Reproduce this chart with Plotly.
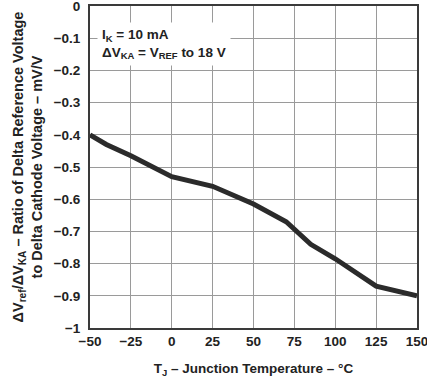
import plotly.graph_objects as go

temp_c = [-50, -40, -25, 0, 25, 50, 70, 85, 100, 125, 150]
ratio_mv_per_v = [-0.40, -0.43, -0.465, -0.53, -0.56, -0.615, -0.67, -0.74, -0.785, -0.87, -0.90]

x_ticks = [-50, -25, 0, 25, 50, 75, 100, 125, 150]
y_ticks = [0, -0.1, -0.2, -0.3, -0.4, -0.5, -0.6, -0.7, -0.8, -0.9, -1]

font_family = "Liberation Sans, Arial, sans-serif"
text_color = "#222222"

fig = go.Figure()
fig.add_trace(go.Scatter(
    x=temp_c, y=ratio_mv_per_v, mode="lines",
    line=dict(color="#2b2b2b", width=5),
    showlegend=False, hoverinfo="skip",
))

fig.update_layout(
    width=427, height=378,
    margin=dict(l=90, r=10, t=6, b=50),
    paper_bgcolor="white", plot_bgcolor="white",
    font=dict(family=font_family, size=13.5, color=text_color),
    xaxis=dict(
        range=[-50, 150], tickvals=x_ticks, automargin=False,
        ticklabeloverflow="allow",
        showgrid=True, gridcolor="#9a9a9a", gridwidth=1,
        showline=True, linecolor="#3a3a3a", linewidth=2, mirror=True,
        ticks="", zeroline=False,
        tickfont=dict(family=font_family, size=13.5, color=text_color, weight="bold"),
        title=dict(text="<b>T<sub>J</sub> – Junction Temperature – °C</b>",
                   font=dict(family=font_family, size=13.5, color=text_color), standoff=18),
    ),
    yaxis=dict(
        range=[-1, 0], tickvals=y_ticks, automargin=False,
        ticklabeloverflow="allow",
        showgrid=True, gridcolor="#9a9a9a", gridwidth=1,
        showline=True, linecolor="#3a3a3a", linewidth=2, mirror=True,
        ticks="", zeroline=False, ticklabelstandoff=5,
        tickfont=dict(family=font_family, size=13.5, color=text_color, weight="bold"),
        title=dict(text="<b>ΔV<sub>ref</sub>/ΔV<sub>KA</sub> – Ratio of Delta Reference Voltage<br>to Delta Cathode Voltage – mV/V</b>",
                   font=dict(family=font_family, size=14.5, color=text_color), standoff=8),
    ),
)

fig.add_annotation(
    xref="paper", yref="paper", x=0.02, y=0.95, xanchor="left", yanchor="top",
    text="<b>I<sub>K</sub> = 10 mA<br>ΔV<sub>KA</sub> = V<sub>REF</sub> to 18 V</b>",
    showarrow=False, align="left", bgcolor="white", borderpad=4,
    font=dict(family=font_family, size=13.5, color=text_color),
)

fig.write_html(
    "out.html",
    config={"displayModeBar": False},
    post_script="document.body.style.margin='0';document.body.style.overflow='hidden';",
)
